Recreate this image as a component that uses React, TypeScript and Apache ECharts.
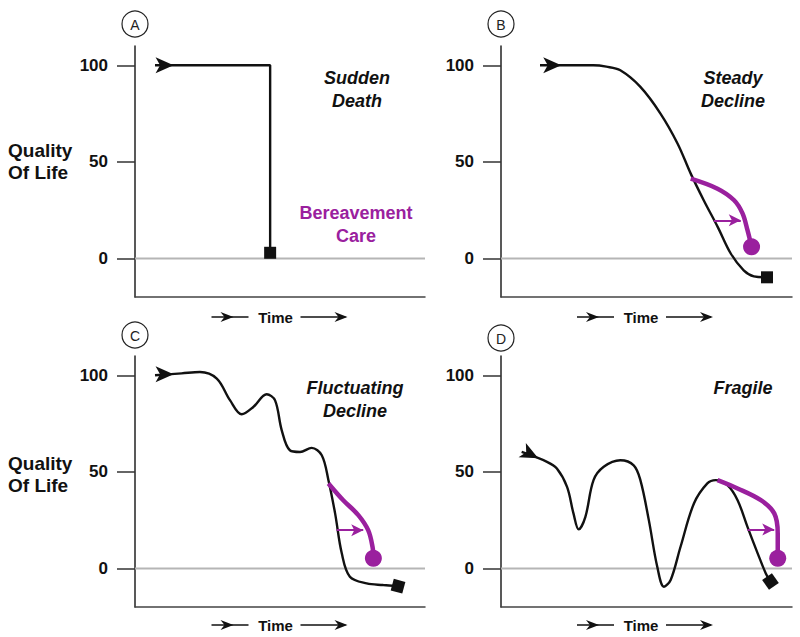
import React, { useEffect, useRef } from 'react';
import * as echarts from 'echarts';

// ---- data ----
const yTicks = [0, 50, 100];
const panelLetters = ['A', 'B', 'C', 'D'];
const panelTitles = [['Sudden', 'Death'], ['Steady', 'Decline'], ['Fluctuating', 'Decline'], ['Fragile']];
const yAxisName = ['Quality', 'Of Life'];
const bereavementLabel = ['Bereavement', 'Care'];
const timeLabel = 'Time';

// black trajectories [time, quality]
const lineA = [[6.9, 100], [46.6, 100], [46.6, 2.9]];
const lineB = [[13.4, 100], [31.7, 100], [36.2, 99.3], [41.0, 97.4], [47.9, 88.8], [54.8, 75], [60.7, 59.4], [65.2, 43.9], [69.7, 30], [74.5, 16.2], [79.0, 2.4], [83.4, -6.2], [86.9, -9.3], [91.4, -9.8]];
const lineC = [[6.9, 100], [16.1, 101], [22.4, 101.7], [28.2, 98.3], [32.8, 87], [36.8, 79.8], [40.8, 83.6], [45.4, 90.2], [48.3, 87], [50.6, 71.5], [53.4, 61.2], [56.9, 60.3], [60.9, 62.4], [64.4, 58.6], [66.7, 45.7], [69.0, 28.5], [71.3, 7.8], [74.1, -4.3], [79.9, -7.8], [85.6, -8.6], [90.7, -9.2]];
const lineD = [[7.1, 60.3], [15.8, 55.2], [19.2, 51.7], [22.7, 42.2], [24.9, 28.5], [26.7, 20.2], [29.0, 26.7], [31.8, 45.7], [35.3, 52.6], [41.0, 56], [45.6, 53.4], [47.9, 45.7], [50.8, 25], [53.7, 0.8], [56.0, -9.5], [58.3, -6], [61.7, 11.2], [66.3, 33.6], [70.9, 44], [73.8, 45.7], [77.8, 43.1], [81.3, 35.3], [84.7, 21.5], [88.2, 7.8], [91.0, -2.6], [92.6, -6.8]];
const blackLines = [lineA, lineB, lineC, lineD];
const blackSmooth = [false, true, true, true];

// purple bereavement trajectories
const careB = [[65.2, 41.3], [74.4, 36.1], [80.1, 30.1], [83.0, 23.3], [84.7, 14.6], [86.1, 6]];
const careC = [[66.7, 44], [71.8, 35.3], [77.0, 27.6], [80.4, 19.8], [81.9, 11.2], [82.2, 5.2]];
const careD = [[74.4, 45.7], [81.3, 41.4], [89.3, 35.3], [93.9, 28.5], [95.1, 18.1], [95.1, 9.5], [95.1, 5.2]];
const careLines = [null, careB, careC, careD];

// small purple arrows [fromTime, toTime, quality]
const careArrows = [null, [73.1, 82.4, 19.7], [69.5, 78.7, 19.8], [84.7, 93.9, 20.2]];

// start arrowheads [time, quality, rotation]
const startArrows = [[13.3, 100, -90], [20.7, 100, -90], [13.3, 100.5, -90], [12.8, 57, -117]];
// end squares [time, quality, rotation]
const endSquares = [[46.6, 2.9, 0], [91.4, -9.8, 0], [90.7, -9.2, -15], [92.6, -6.8, 35]];

const FONT = '"Liberation Sans", Arial, Helvetica, sans-serif';
const PURPLE = '#9a209e';
const BLACK = '#111111';

const grids = [
  { left: 135, top: 46, width: 290, height: 251 },
  { left: 501, top: 46, width: 291, height: 251 },
  { left: 135, top: 356, width: 290, height: 251 },
  { left: 501, top: 356, width: 291, height: 251 },
];

function dart(tx: number, ty: number) {
  return [[tx, ty], [tx - 13, ty - 5], [tx - 9, ty], [tx - 13, ty + 5]];
}

function timeGraphic(cx: number, cy: number) {
  return [
    { type: 'line', shape: { x1: cx - 64, y1: cy, x2: cx - 27, y2: cy }, style: { stroke: BLACK, lineWidth: 1.5 } },
    { type: 'polygon', shape: { points: dart(cx - 42, cy) }, style: { fill: BLACK } },
    { type: 'text', x: cx, y: cy, style: { text: timeLabel, font: `bold 15px ${FONT}`, fill: BLACK, textAlign: 'center', textVerticalAlign: 'middle' } },
    { type: 'line', shape: { x1: cx + 25, y1: cy, x2: cx + 70, y2: cy }, style: { stroke: BLACK, lineWidth: 1.5 } },
    { type: 'polygon', shape: { points: dart(cx + 72, cy) }, style: { fill: BLACK } },
  ];
}

function circleLabel(cx: number, cy: number, letter: string) {
  return [
    { type: 'circle', shape: { cx, cy, r: 13 }, style: { fill: '#fff', stroke: '#222', lineWidth: 1.2 } },
    { type: 'text', x: cx, y: cy + 1, style: { text: letter, font: `14px ${FONT}`, fill: '#222', textAlign: 'center', textVerticalAlign: 'middle' } },
  ];
}

function textLines(cx: number, cy: number, lines: string[], font: string, fill: string, align = 'center', gap = 22.5) {
  return lines.map((t, i) => ({
    type: 'text', x: cx, y: cy + i * gap,
    style: { text: t, font, fill, textAlign: align, textVerticalAlign: 'middle' },
  }));
}

export default function App() {
  const ref = useRef<HTMLDivElement>(null);
  useEffect(() => {
    if (!ref.current) return;
    const chart = echarts.init(ref.current, null, { renderer: 'svg' });

    const xAxis = grids.map((_, i) => ({
      gridIndex: i, type: 'value', min: 0, max: 100,
      axisLine: { show: true, onZero: false, lineStyle: { color: '#444', width: 1.5 } },
      axisTick: { show: false }, axisLabel: { show: false }, splitLine: { show: false },
    }));
    const yAxis = grids.map((_, i) => ({
      gridIndex: i, type: 'value', min: -20, max: 110,
      axisLine: { show: true, onZero: false, lineStyle: { color: '#222', width: 1.5 } },
      axisTick: { show: true, customValues: yTicks, length: 18, lineStyle: { color: '#333', width: 1.5 } },
      axisLabel: { show: true, customValues: yTicks, margin: 27, fontSize: 17, fontWeight: 'bold', color: BLACK, fontFamily: FONT },
      splitLine: { show: false },
    }));

    const series: any[] = [];
    grids.forEach((_, i) => {
      series.push({
        type: 'line', xAxisIndex: i, yAxisIndex: i, data: [[0, 0], [100, 0]],
        symbol: 'none', silent: true, z: 1, lineStyle: { color: '#b5b5b5', width: 2 },
      });
      series.push({
        type: 'line', xAxisIndex: i, yAxisIndex: i, data: blackLines[i],
        symbol: 'none', smooth: blackSmooth[i] ? 0.35 : false, silent: true, z: 3,
        lineStyle: { color: BLACK, width: 2.4 },
      });
      const care = careLines[i];
      const ca = careArrows[i];
      if (care && ca) {
        series.push({
          type: 'line', xAxisIndex: i, yAxisIndex: i, data: care,
          symbol: 'none', smooth: 0.35, silent: true, z: 4,
          lineStyle: { color: PURPLE, width: 4.5 },
          markLine: {
            silent: true, symbol: ['none', 'arrow'], symbolSize: [9, 12],
            lineStyle: { color: PURPLE, width: 2, type: 'solid' }, label: { show: false },
            emphasis: { disabled: true },
            data: [[{ coord: [ca[0], ca[2]] }, { coord: [ca[1], ca[2]] }]],
          },
        });
      }
      const sa = startArrows[i];
      const es = endSquares[i];
      const pts: any[] = [
        { value: [sa[0], sa[1]], symbol: 'arrow', symbolSize: [12, 18], symbolRotate: sa[2], itemStyle: { color: BLACK, opacity: 1 } },
        { value: [es[0], es[1]], symbol: 'rect', symbolSize: 12, symbolRotate: es[2], itemStyle: { color: BLACK, opacity: 1 } },
      ];
      if (care) {
        const last = care[care.length - 1];
        pts.push({ value: [last[0], last[1]], symbol: 'circle', symbolSize: 17, itemStyle: { color: PURPLE, opacity: 1 } });
      }
      series.push({ type: 'scatter', xAxisIndex: i, yAxisIndex: i, data: pts, silent: true, z: 5, itemStyle: { opacity: 1 } });
    });

    const graphics: any[] = [
      ...circleLabel(135, 24, panelLetters[0]),
      ...circleLabel(501, 24, panelLetters[1]),
      ...circleLabel(135, 335, panelLetters[2]),
      ...circleLabel(501, 338, panelLetters[3]),
      ...textLines(8, 150, yAxisName, `bold 19px ${FONT}`, BLACK, 'left'),
      ...textLines(8, 463, yAxisName, `bold 19px ${FONT}`, BLACK, 'left'),
      ...textLines(357, 78, panelTitles[0], `italic bold 18px ${FONT}`, BLACK),
      ...textLines(733, 78, panelTitles[1], `italic bold 18px ${FONT}`, BLACK),
      ...textLines(355, 388, panelTitles[2], `italic bold 18px ${FONT}`, BLACK),
      ...textLines(743, 388, panelTitles[3], `italic bold 18px ${FONT}`, BLACK),
      ...textLines(356, 213, bereavementLabel, `bold 18px ${FONT}`, PURPLE),
      ...timeGraphic(275.5, 317),
      ...timeGraphic(641, 317),
      ...timeGraphic(275.5, 625),
      ...timeGraphic(641, 625),
    ];

    chart.setOption({
      animation: false,
      backgroundColor: '#ffffff',
      grid: grids.map(g => ({ ...g, containLabel: false })),
      xAxis, yAxis, series,
      graphic: { elements: graphics },
    });
    return () => chart.dispose();
  }, []);
  return <div ref={ref} style={{ position: 'absolute', left: 0, top: 0, width: 800, height: 637 }} />;
}
